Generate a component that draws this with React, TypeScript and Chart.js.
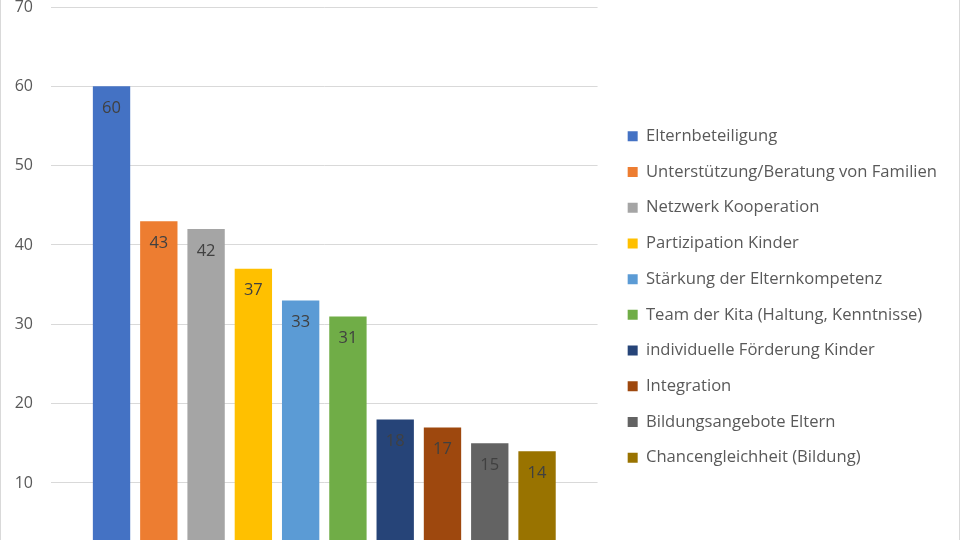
import React, { useEffect, useRef } from "react";
import { Chart, registerables } from "chart.js";

Chart.register(...registerables);

const seriesNames: string[] = [
  "Elternbeteiligung",
  "Unterstützung/Beratung von Familien",
  "Netzwerk Kooperation",
  "Partizipation Kinder",
  "Stärkung der Elternkompetenz",
  "Team der Kita (Haltung, Kenntnisse)",
  "individuelle Förderung Kinder",
  "Integration",
  "Bildungsangebote Eltern",
  "Chancengleichheit (Bildung)",
];

const seriesValues: number[] = [60, 43, 42, 37, 33, 31, 18, 17, 15, 14];

const seriesColors: string[] = [
  "#4472C4",
  "#ED7D31",
  "#A5A5A5",
  "#FFC000",
  "#5B9BD5",
  "#70AD47",
  "#264478",
  "#9E480E",
  "#636363",
  "#997300",
];

const categories: string[] = [""];
const yTicks = { min: 0, max: 70, step: 10 };

const FONT = '"Open Sans", "Noto Sans", sans-serif';

const valueLabels = {
  id: "valueLabels",
  afterDatasetsDraw(chart: any) {
    const ctx = chart.ctx;
    ctx.save();
    ctx.font = `16.5px ${FONT}`;
    ctx.fillStyle = "#404040";
    ctx.textAlign = "center";
    ctx.textBaseline = "middle";
    chart.data.datasets.forEach((ds: any, i: number) => {
      const meta = chart.getDatasetMeta(i);
      meta.data.forEach((el: any, j: number) => {
        ctx.fillText(String(ds.data[j]), el.x, el.y + 22);
      });
    });
    ctx.restore();
  },
};

export default function App() {
  const ref = useRef<HTMLCanvasElement | null>(null);

  useEffect(() => {
    document.body.style.margin = "0";
    if (!ref.current) return;
    const chart = new Chart(ref.current, {
      type: "bar",
      data: {
        labels: categories,
        datasets: seriesNames.map((name, i) => ({
          label: name,
          data: [seriesValues[i]],
          backgroundColor: seriesColors[i],
          borderWidth: 0,
          categoryPercentage: 0.865,
          barPercentage: 0.79,
        })),
      },
      options: {
        responsive: false,
        animation: false,
        devicePixelRatio: 1,
        layout: { padding: { top: 0, bottom: 0, left: 0, right: 12 } },
        plugins: {
          tooltip: { enabled: false },
          legend: {
            position: "right",
            align: "center",
            maxWidth: 500,
            labels: {
              boxWidth: 10,
              boxHeight: 10,
              padding: 19.1,
              color: "#595959",
              font: { family: FONT, size: 16.6 },
            },
          },
        },
        scales: {
          x: {
            display: true,
            grid: { display: false },
            border: { display: false },
            ticks: { display: false },
            afterFit: (s: any) => {
              s.height = 31.7;
            },
          },
          y: {
            min: yTicks.min,
            max: yTicks.max,
            ticks: {
              stepSize: yTicks.step,
              padding: 0,
              color: "#595959",
              font: { family: FONT, size: 16, lineHeight: 0.875 },
            },
            grid: {
              color: "#d9d9d9",
              lineWidth: 1,
              drawTicks: true,
              tickLength: 18,
              tickColor: "rgba(0,0,0,0)",
            },
            border: { display: false },
            afterFit: (s: any) => {
              s.width = 50;
            },
          },
          y2: {
            type: "linear",
            position: "right",
            display: true,
            grid: { display: false },
            border: { display: false },
            ticks: { display: false },
            afterFit: (s: any) => {
              s.width = 11;
            },
          },
        },
      },
      plugins: [valueLabels],
    });
    return () => chart.destroy();
  }, []);

  return (
    <div
      style={{
        width: 960,
        height: 540,
        overflow: "hidden",
        boxSizing: "border-box",
        borderLeft: "1px solid #d9d9d9",
        borderRight: "1px solid #d9d9d9",
        background: "#fff",
      }}
    >
      <canvas ref={ref} width={958} height={594} style={{ display: "block" }} />
    </div>
  );
}
